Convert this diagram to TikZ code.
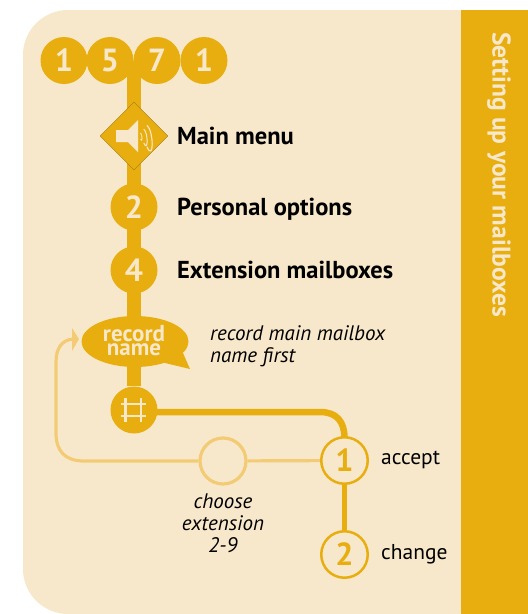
\documentclass[tikz,border=0pt]{standalone}
\usepackage{fontspec}
\setmainfont{PT Sans}
\usetikzlibrary{shapes.geometric,calc}
\pgfdeclarelayer{bg}
\pgfdeclarelayer{panel}
\pgfsetlayers{panel,bg,main}
\definecolor{gold}{HTML}{E8AE10}
\definecolor{cream}{HTML}{F8E8CB}
\definecolor{pale}{HTML}{F3CB74}
\tikzset{
 num/.style={circle,fill=gold,minimum size=47pt,inner sep=0pt,text=cream,font=\fontsize{32}{32}\selectfont\bfseries},
 ringnum/.style={circle,draw=gold,line width=2.5pt,fill=cream,minimum size=46.5pt,inner sep=0pt,text=gold,font=\fontsize{32}{32}\selectfont\bfseries},
 head/.style={anchor=base west,inner sep=0pt,font=\fontsize{24.5}{26}\selectfont\bfseries,text=black},
 note/.style={inner sep=0pt,font=\fontsize{21}{22}\selectfont\itshape,text=black,align=left},
 plain/.style={anchor=base west,inner sep=0pt,font=\fontsize{21.5}{22}\selectfont,text=black},
 trunk/.style={draw=gold,line width=14pt},
 thin gold/.style={draw=gold,line width=6.5pt},
 ret/.style={draw=pale,line width=3.2pt},
}
\begin{document}
\begin{tikzpicture}[x=1pt,y=-1pt]
\useasboundingbox (0,0) rectangle (528,614);
\begin{pgfonlayer}{panel}
\fill[white] (0,0) rectangle (528,614);
\fill[cream,rounded corners=45pt] (500,10) -- (23,10) -- (23,614) -- (500,614) -- cycle;
\fill[gold] (461,10) rectangle (528,614);
\end{pgfonlayer}
\node[rotate=-90,text=cream,font=\fontsize{25.5}{26}\selectfont\bfseries] (title) at (499,174.5) {Setting up your mailboxes};

% nodes
\node[num] (d1) at (64,60.5) {1};
\node[num] (d2) at (110,60.5) {5};
\node[num] (d3) at (157,60.5) {7};
\node[num] (d4) at (204,60.5) {1};
\coordinate (top) at (134,60.5);
\node[diamond,fill=gold,draw=gold!70!black,line width=.3pt,minimum width=68pt,minimum height=68pt,inner sep=0pt] (menu) at (134,136) {};
\node[num] (opt) at (134,207) {2};
\node[num] (ext) at (134,270) {4};
\node[num] (hash) at (134,410) {};
\node[ellipse,fill=gold,minimum width=107pt,minimum height=51pt,inner sep=0pt] (rec) at (135,341.5) {};
\node[ringnum] (acc) at (344.5,460.5) {1};
\node[ringnum] (chg) at (344.5,554.5) {2};
\node[circle,draw=pale,line width=3.2pt,fill=cream,minimum size=46pt,inner sep=0pt] (ch) at (223,461) {};

% connectors
\begin{pgfonlayer}{bg}
\draw[trunk] (top) -- (hash);
\draw[thin gold] (hash.center) ++(0,2) -- (320,412) .. controls (337,412) and (344.5,422) .. (344.5,438) -- (acc.north);
\draw[draw=gold,line width=5.5pt] (acc) -- (chg);
\draw[ret] (acc) -- (ch);
\draw[ret] (ch.west) -- (84,461) .. controls (65,461) and (56,451) .. (56,433) -- (56,362) .. controls (56,348) and (62,340) .. (73,339);
\end{pgfonlayer}
\fill[pale] (79,339) -- (72,328) -- (72,351) -- cycle;

% speech tail
\fill[gold] (183,353) -- (190,369) -- (165,363) -- (150,350) -- cycle;
\node[text=cream,inner sep=0pt,anchor=base,font=\fontsize{23}{15}\selectfont\bfseries] (rn1) at (134,341) {record};
\node[text=cream,inner sep=0pt,anchor=base,font=\fontsize{23}{15}\selectfont\bfseries] (rn2) at (134,355) {name};

% speaker
\fill[cream] (116,130) -- (128,130) -- (138,120) -- (138,152) -- (128,142) -- (116,142) -- cycle;
\foreach \r/\w in {4/.9,9/1,14/1.1}
  \draw[cream,line width=\w pt] ($(138,136)+(0.64*\r,-0.77*\r)$) .. controls +(0.5*\r,0.42*\r) and +(0.5*\r,1.12*\r) .. ($(138,136)+(0.64*\r,0.77*\r)$);

% hash
\draw[cream,line width=2.8pt] (125.5,398) -- (125.5,422) (141,398) -- (141,422) (121,404) -- (146,404) (121,416) -- (146,416);

% labels
\node[head] (l1) at (177,144) {Main menu};
\node[head] (l2) at (177,215) {Personal options};
\node[head] (l3) at (177,278) {Extension mailboxes};
\node[note,anchor=north west] (n1) at (210,325) {record main mailbox\\name first};
\node[note,align=center,anchor=north] (n2) at (223,493.5) {choose\\extension\\2-9};
\node[plain] (a) at (381,464) {accept};
\node[plain] (c) at (381,559) {change};
\end{tikzpicture}
\end{document}
